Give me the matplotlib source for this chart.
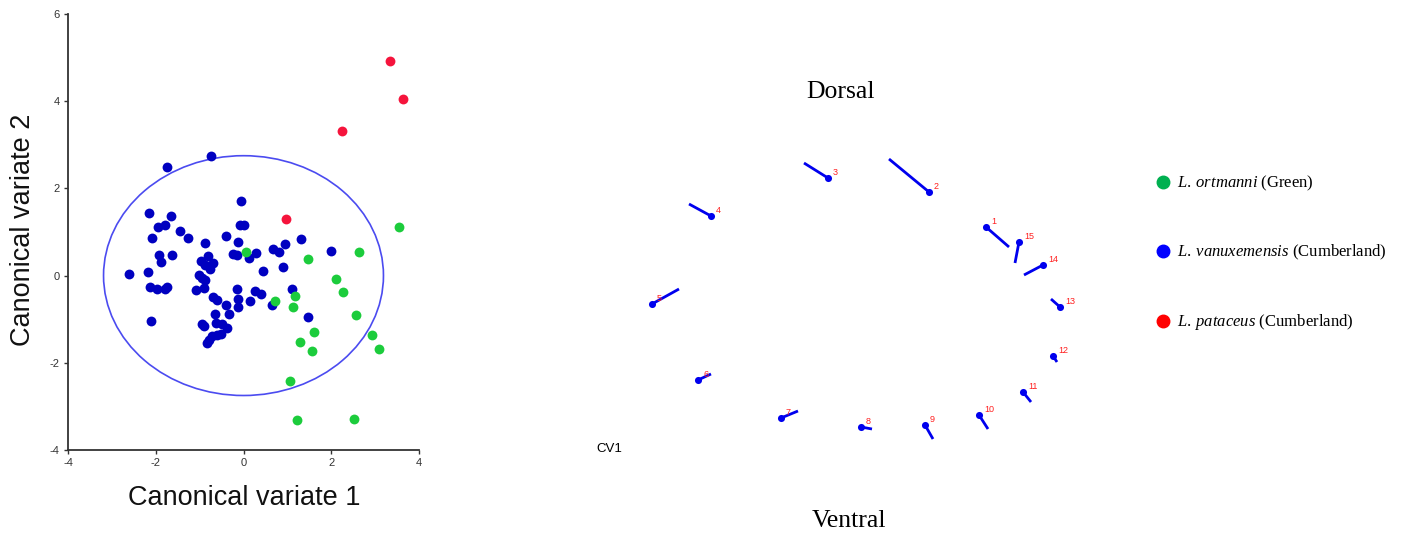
import numpy as np
import matplotlib
matplotlib.use("Agg")
import matplotlib.pyplot as plt
from matplotlib.patches import Ellipse
from matplotlib.lines import Line2D

plt.rcParams['font.family'] = ['Liberation Sans', 'DejaVu Sans']
plt.rcParams['mathtext.fontset'] = 'custom'
plt.rcParams['mathtext.rm'] = 'Liberation Serif'
plt.rcParams['mathtext.it'] = 'Liberation Serif:italic'
plt.rcParams['axes.unicode_minus'] = False

# ----------------------------------
# CANONICAL VARIATE SCORES
# ----------------------------------
blue_cv1 = [-0.75, -1.74, -0.05, -2.16, -1.65, -1.94, -1.78, -1.44, -2.08, -1.27,
            -0.09, 0.00, -0.40, -0.13, -0.87, -0.24, -0.15, 0.29, 0.13, -1.92,
            -1.63, -1.89, -0.81, -0.98, -0.88, -0.70, -0.77, 0.44, -2.60, -2.18,
            -1.02, -0.94, -0.87, -2.13, -1.98, -1.78, -1.74, -1.09, -0.90, -0.14,
            0.27, 0.41, -0.70, -0.61, -0.13, 0.14, -0.39, -0.13, -0.65, -0.34,
            -2.10, -0.94, -0.91, -0.62, -0.48, -0.38, -0.71, -0.61, -0.51, -0.79,
            -0.84, 0.67, 0.82, 0.95, 1.31, 2.00, 0.90, 1.11, 0.65, 1.47]
blue_cv2 = [2.74, 2.48, 1.72, 1.43, 1.37, 1.11, 1.15, 1.03, 0.87, 0.87,
            1.15, 1.17, 0.90, 0.78, 0.75, 0.49, 0.47, 0.51, 0.40, 0.47,
            0.47, 0.31, 0.46, 0.33, 0.25, 0.29, 0.15, 0.10, 0.03, 0.08,
            0.01, -0.06, -0.09, -0.26, -0.31, -0.31, -0.25, -0.34, -0.28, -0.31,
            -0.36, -0.42, -0.50, -0.57, -0.54, -0.58, -0.67, -0.72, -0.88, -0.88,
            -1.03, -1.11, -1.16, -1.09, -1.10, -1.20, -1.39, -1.36, -1.33, -1.47,
            -1.55, 0.61, 0.53, 0.72, 0.84, 0.56, 0.20, -0.30, -0.68, -0.96]

green_cv1 = [0.06, 3.54, 2.63, 1.48, 2.11, 2.26, 1.18, 0.71, 1.12, 2.57,
             1.60, 2.92, 1.28, 1.56, 3.08, 1.06, 1.23, 2.51]
green_cv2 = [0.55, 1.11, 0.53, 0.39, -0.07, -0.38, -0.46, -0.58, -0.73, -0.90,
             -1.29, -1.36, -1.53, -1.72, -1.68, -2.42, -3.31, -3.28]

red_cv1 = [3.33, 3.63, 2.24, 0.98]
red_cv2 = [4.92, 4.04, 3.32, 1.29]

# ----------------------------------
# LANDMARK SHAPE CHANGE ALONG CV1
# ----------------------------------
lm_id = list(range(1, 16))
lm_x = [1.26, 0.69, -0.32, -1.49, -2.08, -1.62, -0.79, 0.01, 0.65, 1.19,
        1.63, 1.93, 2.00, 1.83, 1.59]
lm_y = [0.73, 1.08, 1.22, 0.84, -0.04, -0.80, -1.18, -1.27, -1.25, -1.15,
        -0.92, -0.56, -0.07, 0.35, 0.58]
lm_dx = [0.23, -0.40, -0.24, -0.22, 0.27, 0.13, 0.17, 0.11, 0.08, 0.09,
         0.08, 0.04, -0.09, -0.19, -0.04]
lm_dy = [-0.20, 0.33, 0.15, 0.12, 0.15, 0.06, 0.07, -0.02, -0.14, -0.14,
         -0.10, -0.06, 0.08, -0.10, -0.21]

legend_labels = [r"$\mathit{L.\:ortmanni}$ (Green)",
                 r"$\mathit{L.\:vanuxemensis}$ (Cumberland)",
                 r"$\mathit{L.\:pataceus}$ (Cumberland)"]
legend_colors = ['#00b050', '#0000ff', '#ff0000']

W, H = 1418, 538
fig = plt.figure(figsize=(W / 100, H / 100), dpi=100)
fig.patch.set_facecolor('white')

# ---- scatter of CV scores ----
ax = fig.add_axes([68 / W, 1 - 450 / H, 351 / W, 436 / H])
ax.add_patch(Ellipse((0, 0), 6.38, 5.5, fill=False, edgecolor='#4b4bf0', lw=1.2))
ax.scatter(blue_cv1, blue_cv2, s=50, color='#0000c0', lw=0, zorder=3)
ax.scatter(green_cv1, green_cv2, s=50, color='#1ccc3c', lw=0, zorder=3)
ax.scatter(red_cv1, red_cv2, s=50, color='#f5143c', lw=0, zorder=3)
ax.set_xlim(-4, 4)
ax.set_ylim(-4, 6)
ax.set_xticks([-4, -2, 0, 2, 4])
ax.set_yticks([-4, -2, 0, 2, 4, 6])
for s in ['top', 'right']:
    ax.spines[s].set_visible(False)
for s in ['left', 'bottom']:
    ax.spines[s].set_color('#333333')
    ax.spines[s].set_linewidth(1.3)
ax.tick_params(direction='out', length=3, width=1, colors='#333333', labelsize=8, pad=3)
fig.text(23 / W, 1 - 230 / H, 'Canonical variate 2', rotation=90, ha='center', va='center',
         fontsize=19.5, color='#111111')
fig.text(244 / W, 1 - 498 / H, 'Canonical variate 1', ha='center', va='center',
         fontsize=19.5, color='#111111')

# ---- landmark vectors ----
ax2 = fig.add_axes([567 / W, 0, 567 / W, 1])
ax2.set_xlim(-2.93, 2.74)
ax2.set_ylim(-2.38, 3.0)
ax2.axis('off')
for i in range(len(lm_id)):
    ax2.plot([lm_x[i], lm_x[i] + lm_dx[i]], [lm_y[i], lm_y[i] + lm_dy[i]],
             color='#0000ee', lw=2.0, solid_capstyle='butt')
    ax2.text(lm_x[i] + 0.05, lm_y[i] + 0.01, str(lm_id[i]), color='#ff2020',
             fontsize=6.5, ha='left', va='bottom')
ax2.scatter(lm_x, lm_y, s=26, color='#0000ee', lw=0, zorder=3)

fig.text(841 / W, 1 - 92 / H, 'Dorsal', ha='center', va='center',
         fontsize=18.5, family='Liberation Serif')
fig.text(849 / W, 1 - 521 / H, 'Ventral', ha='center', va='center',
         fontsize=18.5, family='Liberation Serif')
fig.text(596 / W, 1 - 449 / H, 'CV1', ha='left', va='center', fontsize=9.5)

# ---- legend ----
handles = [Line2D([], [], ls='none', marker='o', markersize=9, color=c, mec=c)
           for c in legend_colors]
fig.legend(handles, legend_labels, loc='upper left', bbox_to_anchor=(1155 / W, 1 - 174 / H),
           frameon=False, prop={'family': 'Liberation Serif', 'size': 12},
           labelspacing=3.0, handletextpad=0.3, handlelength=1.0,
           borderpad=0, borderaxespad=0)

plt.savefig('out.png', dpi=100)
